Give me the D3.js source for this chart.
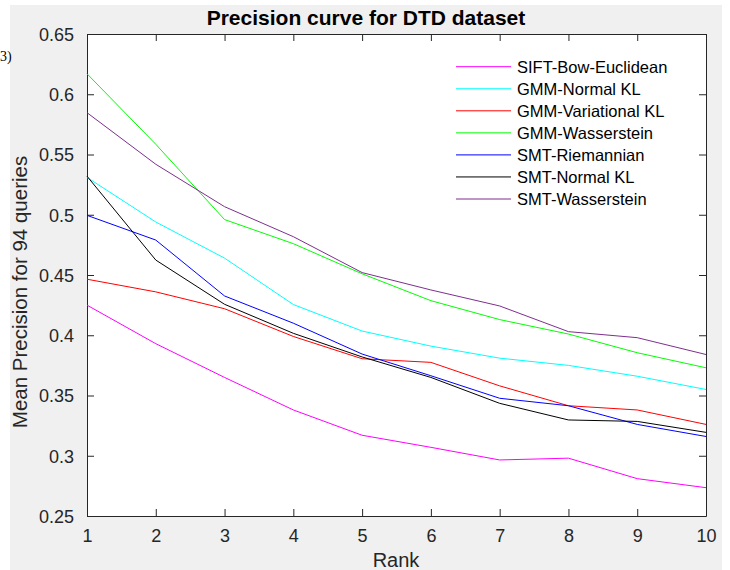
<!DOCTYPE html>
<html>
<head>
<meta charset="utf-8">
<script src="https://cdn.jsdelivr.net/npm/d3@7"></script>
<style>
  body { margin: 0; background: #fff; }
  svg text { font-family: "Liberation Sans", Arial, Helvetica, sans-serif; }
</style>
</head>
<body>
<div class="chart"></div>
<script>
// Data
let ranks = [1, 2, 3, 4, 5, 6, 7, 8, 9, 10];
let seriesNames = ["SIFT-Bow-Euclidean", "GMM-Normal KL", "GMM-Variational KL", "GMM-Wasserstein",
  "SMT-Riemannian", "SMT-Normal KL", "SMT-Wasserstein"];
let siftBow = [0.425, 0.393, 0.365, 0.338, 0.317, 0.307, 0.2965, 0.298, 0.281, 0.2735];
let gmmNormalKL = [0.531, 0.494, 0.464, 0.4255, 0.4035, 0.391, 0.381, 0.375, 0.366, 0.355];
let gmmVariationalKL = [0.4465, 0.436, 0.422, 0.399, 0.3805, 0.3775, 0.358, 0.3415, 0.338, 0.326];
let gmmWasserstein = [0.617, 0.5585, 0.496, 0.476, 0.451, 0.4287, 0.413, 0.401, 0.3855, 0.373];
let smtRiemannian = [0.4995, 0.479, 0.4326, 0.410, 0.3844, 0.3664, 0.3477, 0.3415, 0.326, 0.316];
let smtNormalKL = [0.532, 0.4624, 0.4257, 0.4016, 0.382, 0.365, 0.3435, 0.3297, 0.3285, 0.3194];
let smtWasserstein = [0.5847, 0.5419, 0.5067, 0.4818, 0.452, 0.4376, 0.4243, 0.403, 0.398, 0.384];
let yTicks = [0.25, 0.3, 0.35, 0.4, 0.45, 0.5, 0.55, 0.6, 0.65];
let yTickLabels = ["0.25", "0.3", "0.35", "0.4", "0.45", "0.5", "0.55", "0.6", "0.65"];

let allSeries = [siftBow, gmmNormalKL, gmmVariationalKL, gmmWasserstein, smtRiemannian, smtNormalKL, smtWasserstein];
let colors = ["#ff00ff", "#00ffff", "#ff0000", "#00ff00", "#0000ff", "#000000", "#7e2f8e"];

let svgWidth = 730;
let svgHeight = 570;
let margin = {top: 34, right: 24, bottom: 54, left: 87};
let width = svgWidth - margin.left - margin.right;
let height = svgHeight - margin.top - margin.bottom;

let svg = d3.select(".chart").append("svg")
  .attr("width", svgWidth)
  .attr("height", svgHeight);

// figure background
svg.append("rect")
  .attr("x", 10).attr("y", 5)
  .attr("width", 712).attr("height", 565)
  .attr("fill", "#f0f0f0");

// stray panel label at the left edge
svg.append("text")
  .attr("x", 0).attr("y", 61)
  .style("font-family", "'Liberation Serif', 'Times New Roman', serif")
  .style("font-size", "14px")
  .text("3)");

let chartGroup = svg.append("g")
  .attr("transform", `translate(${margin.left}, ${margin.top})`);

chartGroup.append("rect")
  .attr("width", width).attr("height", height)
  .attr("fill", "#fff");

let xScale = d3.scaleLinear().domain([1, 10]).range([0, width]);
let yScale = d3.scaleLinear().domain([0.25, 0.65]).range([height, 0]);

let axisColor = "#262626";
let tickLen = 7;

// bottom + top axes, left + right axes (box with inward ticks)
let bottomAxis = d3.axisBottom(xScale).tickValues(ranks).tickFormat(d3.format("d"))
  .tickSizeInner(-tickLen).tickSizeOuter(0).tickPadding(13);
let topAxis = d3.axisTop(xScale).tickValues(ranks).tickFormat("")
  .tickSizeInner(-tickLen).tickSizeOuter(0);
let leftAxis = d3.axisLeft(yScale).tickValues(yTicks).tickFormat((d, i) => yTickLabels[i])
  .tickSizeInner(-tickLen).tickSizeOuter(0).tickPadding(13);
let rightAxis = d3.axisRight(yScale).tickValues(yTicks).tickFormat("")
  .tickSizeInner(-tickLen).tickSizeOuter(0);

let gx = chartGroup.append("g").attr("transform", `translate(0, ${height})`).call(bottomAxis);
let gt = chartGroup.append("g").call(topAxis);
let gy = chartGroup.append("g").call(leftAxis);
let gr = chartGroup.append("g").attr("transform", `translate(${width}, 0)`).call(rightAxis);

[gx, gt, gy, gr].forEach(g => {
  g.selectAll("path, line").attr("stroke", axisColor).attr("stroke-width", 1);
  g.selectAll("text").attr("fill", axisColor)
    .style("font-size", "18px")
    .style("font-family", "'Liberation Sans', Arial, sans-serif");
});
gy.selectAll("text").attr("dy", "0.36em");

// lines
let line = d3.line()
  .x((d, i) => xScale(ranks[i]))
  .y(d => yScale(d));

allSeries.forEach((s, k) => {
  chartGroup.append("path")
    .datum(s)
    .attr("fill", "none")
    .attr("stroke", colors[k])
    .attr("stroke-width", 1)
    .attr("d", line);
});

// legend
let legend = svg.append("g").attr("transform", "translate(456, 66.7)");
seriesNames.forEach((name, k) => {
  let row = legend.append("g").attr("transform", `translate(0, ${k * 22.05})`);
  row.append("line")
    .attr("x1", 0).attr("x2", 55)
    .attr("stroke", colors[k]).attr("stroke-width", 1);
  row.append("text")
    .attr("x", 61).attr("y", 6)
    .attr("fill", "#000")
    .style("font-size", "16.5px")
    .text(name);
});

// title
svg.append("text")
  .attr("x", 366).attr("y", 25)
  .attr("text-anchor", "middle")
  .attr("fill", "#000")
  .style("font-size", "21px")
  .style("font-weight", "bold")
  .text("Precision curve for DTD dataset");

// x label
svg.append("text")
  .attr("x", 396).attr("y", 567)
  .attr("text-anchor", "middle")
  .attr("fill", axisColor)
  .style("font-size", "20px")
  .text("Rank");

// y label
svg.append("text")
  .attr("transform", "translate(27, 292) rotate(-90)")
  .attr("text-anchor", "middle")
  .attr("fill", axisColor)
  .style("font-size", "20.5px")
  .text("Mean Precision for 94 queries");
</script>
</body>
</html>
